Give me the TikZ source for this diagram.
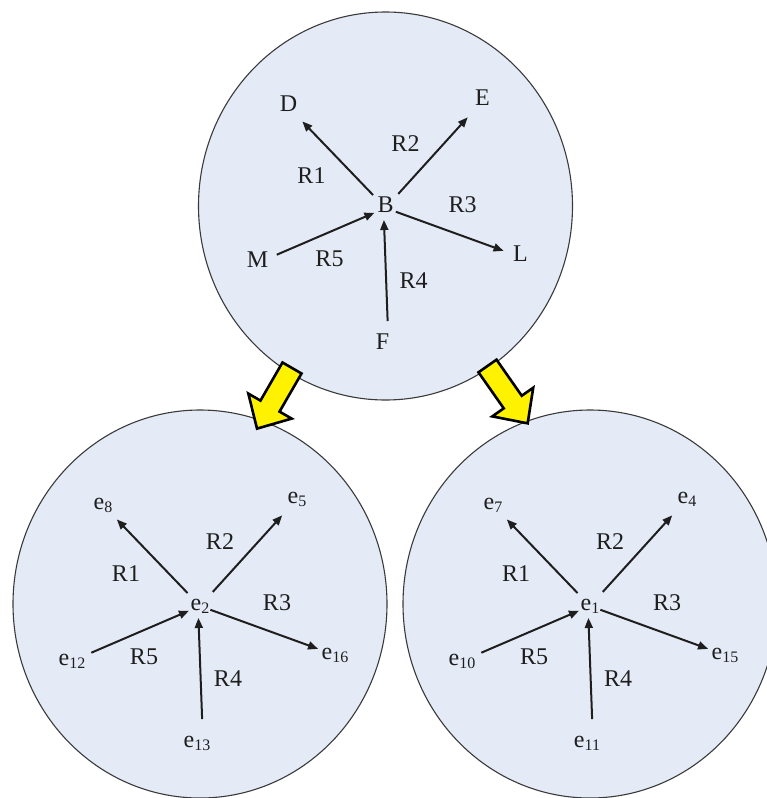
\documentclass[tikz,border=0pt]{standalone}
\usepackage{fontspec}
\setmainfont{Liberation Serif}
\usetikzlibrary{arrows.meta}
\definecolor{discfill}{HTML}{E5EBF6}
\definecolor{discline}{HTML}{3A3A3A}
\definecolor{inkc}{HTML}{1E1E1E}
\newcommand\subs[1]{\raisebox{-3.5pt}{\fontsize{16}{16}\selectfont #1}}
\newcommand\starcluster[9]{%
\begin{scope}[shift={(#2,#3)}]
\draw[disc] (0,0) ellipse [x radius=187pt, y radius=194pt];
\node[vert] (#1c) at (0,2) {#4};
\node[vert] (#1nw) at (-97,-99) {#5};
\node[vert] (#1ne) at (97,-105) {#6};
\node[vert] (#1w) at (-128,57) {#7};
\node[vert] (#1e) at (135,51) {#8};
\node[vert] (#1s) at (-3,139) {#9};
\node[rel] (#1r1) at (-74,-30) {R1};
\node[rel] (#1r2) at (20,-62) {R2};
\node[rel] (#1r3) at (77,-1) {R3};
\node[rel] (#1r4) at (28,75) {R4};
\node[rel] (#1r5) at (-56,53) {R5};
\draw[arr, shorten <=18pt, shorten >=20pt] (#1c.center) -- (#1nw.center);
\draw[arr, shorten <=19pt, shorten >=22pt] (#1c.center) -- (#1ne.center);
\draw[arr, shorten <=11pt, shorten >=18pt] (#1c.center) -- (#1e.center);
\draw[arr, shorten <=21pt, shorten >=12pt] (#1w.center) -- (#1c.center);
\draw[arr, shorten <=24pt, shorten >=12pt] ([xshift=6pt]#1s.center) -- ([xshift=-2pt]#1c.center);
\end{scope}}
\begin{document}
\begin{tikzpicture}[x=1pt,y=-1pt,
  disc/.style={fill=discfill, draw=discline, line width=1.1pt},
  vert/.style={inner sep=0pt, text height=12pt, text depth=4pt, text=inkc, font=\fontsize{24}{28}\selectfont},
  rel/.style={inner sep=0pt, text=inkc, font=\fontsize{24}{28}\selectfont},
  arr/.style={draw=inkc, line width=2pt, -{Triangle[length=10pt,width=8pt]}},
  bigarrow/.style={fill=yellow, draw=black, line width=2.6pt, line join=miter}]
\useasboundingbox (0,0) rectangle (767,798);
\clip (0,0) rectangle (767,798);
\starcluster{T}{385.5}{206}{B}{D}{E}{M}{L}{F}
\starcluster{P}{200}{604}{e\subs{2}}{e\subs{8}}{e\subs{5}}{e\subs{12}}{e\subs{16}}{e\subs{13}}
\starcluster{Q}{590}{604}{e\subs{1}}{e\subs{7}}{e\subs{4}}{e\subs{10}}{e\subs{15}}{e\subs{11}}
\begin{scope}[shift={(292,368)}, rotate=240]
\draw[bigarrow] (0,11) -- (44,11) -- (44,25) -- (70,0) -- (44,-25) -- (44,-11) -- (0,-11) -- cycle;
\end{scope}
\begin{scope}[shift={(487.5,366)}, rotate=-55]
\draw[bigarrow] (0,11) -- (44,11) -- (44,25) -- (70,0) -- (44,-25) -- (44,-11) -- (0,-11) -- cycle;
\end{scope}
\end{tikzpicture}
\end{document}
